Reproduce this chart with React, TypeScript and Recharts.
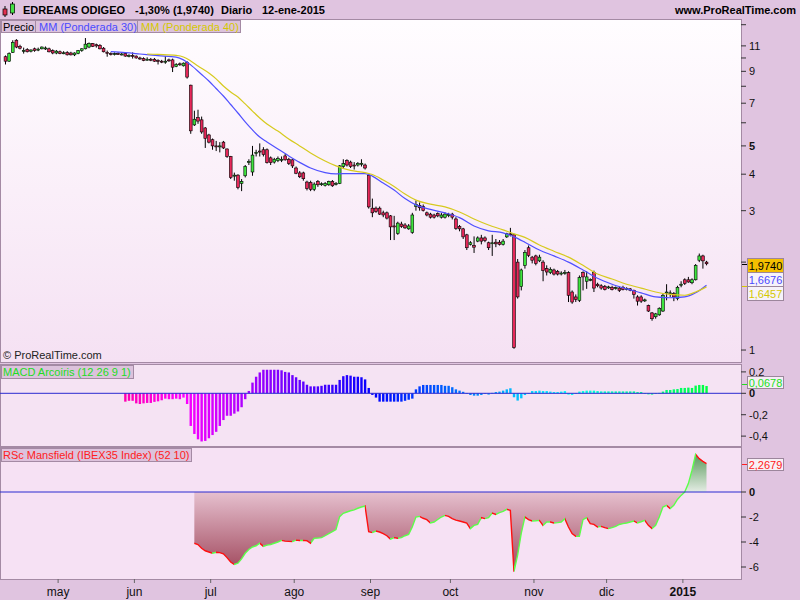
import React from "react";
import { ComposedChart, Bar, Line, Area, XAxis, YAxis, ReferenceLine } from "recharts";

// daily candles [open, high, low, close], one array per month
const aprCandles = [
  [10.1, 10.2, 9.5, 9.75], [9.75, 10.45, 9.7, 10.35], [10.45, 11.5, 10.4, 11.3], [11.5, 11.6, 10.8, 10.9],
  [10.95, 11.1, 10.7, 10.8], [10.6, 10.85, 10.35, 10.62], [10.7, 10.8, 10.45, 10.5], [10.55, 10.7, 10.45, 10.65],
  [10.75, 10.85, 10.5, 10.6], [10.7, 10.85, 10.55, 10.72], [10.75, 10.95, 10.7, 10.9], [10.8, 10.95, 10.65, 10.82],
  [10.75, 10.85, 10.45, 10.5], [10.6, 10.7, 10.3, 10.4], [10.4, 10.65, 10.3, 10.55],
];
const mayCandles = [
  [10.5, 10.6, 10.3, 10.35], [10.4, 10.55, 10.3, 10.42], [10.45, 10.55, 10.2, 10.25], [10.4, 10.5, 10.2, 10.25],
  [10.25, 10.45, 10.15, 10.4], [10.35, 10.65, 10.3, 10.6], [10.6, 10.8, 10.5, 10.75], [10.75, 11.7, 10.7, 11.15],
  [10.9, 11.3, 10.8, 11.2], [11.2, 11.25, 10.9, 10.95], [11.1, 11.2, 10.85, 11.0], [11.05, 11.15, 10.7, 10.75],
  [10.8, 10.9, 10.45, 10.5], [10.45, 10.6, 10.1, 10.42], [10.35, 10.45, 10.2, 10.3], [10.3, 10.45, 10.2, 10.35],
  [10.35, 10.45, 10.25, 10.3], [10.3, 10.4, 10.2, 10.32], [10.35, 10.45, 10.1, 10.15], [10.15, 10.3, 10.05, 10.2],
  [10.2, 10.45, 9.95, 10.15],
];
const junCandles = [
  [10.15, 10.2, 9.95, 10.0], [10.0, 10.1, 9.85, 9.95], [9.95, 10.05, 9.75, 9.8], [9.85, 10.05, 9.8, 9.9],
  [9.9, 10.0, 9.75, 9.85], [9.9, 10.0, 9.7, 9.75], [9.8, 9.9, 9.5, 9.78], [9.75, 9.85, 9.6, 9.7],
  [9.7, 10.15, 9.55, 9.75], [9.85, 9.95, 9.7, 9.8], [9.85, 9.95, 8.95, 9.3], [9.35, 9.6, 9.3, 9.5],
  [9.55, 9.65, 9.4, 9.5], [9.4, 9.65, 9.35, 9.6], [9.65, 9.75, 8.5, 8.6], [8.07, 8.1, 5.5, 5.63],
  [5.9, 6.6, 5.85, 6.17], [6.25, 6.65, 5.95, 6.08], [6.14, 6.3, 5.5, 5.58], [5.76, 5.8, 4.92, 5.3],
  [5.45, 5.5, 5.1, 5.15],
];
const julCandles = [
  [5.25, 5.3, 4.85, 5.0], [5.0, 5.2, 4.8, 4.98], [4.98, 5.15, 4.75, 5.0], [5.15, 5.2, 4.88, 4.92],
  [4.88, 4.9, 4.55, 4.6], [4.6, 4.62, 3.85, 3.9], [3.95, 4.05, 3.8, 3.97], [3.97, 4.0, 3.55, 3.6],
  [3.72, 3.85, 3.5, 3.78], [3.95, 4.3, 3.9, 4.25], [4.4, 4.5, 4.3, 4.42], [4.07, 5.0, 3.95, 4.65],
  [4.72, 4.85, 4.6, 4.75], [4.8, 5.1, 4.6, 4.78], [4.85, 4.95, 4.6, 4.67], [4.85, 4.9, 4.35, 4.38],
  [4.55, 4.6, 4.3, 4.38], [4.4, 4.55, 4.35, 4.5], [4.45, 4.6, 4.4, 4.52], [4.5, 4.6, 4.4, 4.5],
  [4.62, 4.7, 4.45, 4.48], [4.5, 4.55, 4.3, 4.35], [4.48, 4.5, 4.2, 4.27],
];
const augCandles = [
  [4.2, 4.25, 4.0, 4.03], [4.04, 4.1, 3.88, 3.92], [4.04, 4.08, 3.8, 3.86], [3.76, 3.8, 3.52, 3.57],
  [3.75, 3.8, 3.5, 3.55], [3.55, 3.75, 3.5, 3.7], [3.78, 3.82, 3.62, 3.68], [3.7, 3.75, 3.65, 3.71],
  [3.66, 3.76, 3.63, 3.72], [3.68, 3.8, 3.65, 3.78], [3.78, 3.82, 3.62, 3.65], [3.7, 3.76, 3.66, 3.72],
  [3.72, 4.3, 3.7, 4.27], [4.25, 4.5, 4.2, 4.35], [4.45, 4.5, 4.25, 4.3], [4.4, 4.45, 4.2, 4.25],
  [4.3, 4.4, 4.15, 4.28], [4.3, 4.4, 4.25, 4.35], [4.35, 4.5, 4.25, 4.36], [4.3, 4.35, 4.15, 4.2],
  [3.97, 4.0, 3.05, 3.09],
];
const sepCandles = [
  [3.06, 3.3, 2.85, 2.95], [3.06, 3.1, 2.95, 2.98], [3.06, 3.1, 2.9, 2.92], [2.95, 3.0, 2.85, 2.9],
  [2.95, 2.98, 2.8, 2.83], [2.88, 2.9, 2.38, 2.64], [2.66, 2.88, 2.38, 2.64], [2.51, 2.75, 2.48, 2.72],
  [2.7, 2.75, 2.62, 2.65], [2.68, 2.72, 2.6, 2.62], [2.6, 2.7, 2.58, 2.66], [2.53, 2.95, 2.5, 2.9],
  [3.1, 3.25, 3.0, 3.15], [3.13, 3.2, 3.0, 3.07], [3.1, 3.15, 2.98, 3.0], [2.95, 2.98, 2.87, 2.9],
  [2.92, 2.95, 2.82, 2.85], [2.9, 2.93, 2.82, 2.85], [2.93, 2.96, 2.85, 2.88], [2.85, 2.95, 2.82, 2.9],
  [2.85, 2.96, 2.82, 2.92], [2.9, 2.95, 2.85, 2.91],
];
const octCandles = [
  [2.92, 2.95, 2.8, 2.85], [2.81, 2.85, 2.58, 2.61], [2.65, 2.68, 2.55, 2.6], [2.6, 2.62, 2.4, 2.44],
  [2.48, 2.5, 2.2, 2.24], [2.3, 2.36, 2.28, 2.33], [2.28, 2.45, 2.15, 2.25], [2.36, 2.45, 2.34, 2.42],
  [2.42, 2.48, 2.3, 2.36], [2.42, 2.45, 2.34, 2.37], [2.33, 2.35, 2.2, 2.24], [2.32, 2.48, 2.1, 2.33],
  [2.34, 2.4, 2.25, 2.31], [2.34, 2.38, 2.28, 2.3], [2.3, 2.4, 2.28, 2.36], [2.44, 2.52, 2.42, 2.5],
  [2.5, 2.62, 2.45, 2.48], [2.48, 2.5, 1.01, 1.02], [2.0, 2.05, 1.5, 1.52], [1.65, 1.9, 1.6, 1.88],
  [1.95, 2.2, 1.9, 2.16], [2.24, 2.28, 2.08, 2.11], [2.08, 2.1, 1.98, 2.03],
];
const novCandles = [
  [2.1, 2.12, 1.95, 1.98], [2.02, 2.12, 2.0, 2.08], [2.0, 2.03, 1.72, 1.87], [1.9, 1.95, 1.8, 1.85],
  [1.84, 1.92, 1.82, 1.89], [1.88, 1.9, 1.8, 1.82], [1.86, 1.88, 1.8, 1.82], [1.83, 1.86, 1.8, 1.835],
  [1.84, 1.88, 1.81, 1.845], [1.84, 1.86, 1.46, 1.54], [1.58, 1.6, 1.44, 1.46], [1.52, 1.55, 1.46, 1.49],
  [1.48, 1.8, 1.46, 1.77], [1.84, 1.86, 1.6, 1.78], [1.72, 1.86, 1.62, 1.78], [1.74, 1.76, 1.72, 1.745],
  [1.84, 1.87, 1.58, 1.63], [1.68, 1.7, 1.64, 1.66], [1.66, 1.68, 1.61, 1.63], [1.65, 1.67, 1.6, 1.61],
];
const decCandles = [
  [1.64, 1.66, 1.62, 1.645], [1.64, 1.66, 1.6, 1.61], [1.63, 1.65, 1.61, 1.635], [1.63, 1.65, 1.58, 1.6],
  [1.64, 1.66, 1.6, 1.61], [1.62, 1.64, 1.6, 1.625], [1.62, 1.63, 1.59, 1.6], [1.6, 1.61, 1.5, 1.55],
  [1.52, 1.54, 1.42, 1.47], [1.52, 1.54, 1.45, 1.47], [1.48, 1.5, 1.46, 1.485], [1.42, 1.43, 1.35, 1.36],
  [1.34, 1.35, 1.26, 1.28], [1.3, 1.34, 1.28, 1.33], [1.32, 1.4, 1.31, 1.39], [1.36, 1.56, 1.35, 1.54],
  [1.57, 1.68, 1.48, 1.58], [1.56, 1.6, 1.52, 1.57], [1.56, 1.58, 1.47, 1.52], [1.5, 1.66, 1.48, 1.64],
  [1.67, 1.72, 1.64, 1.68],
];
const janCandles = [
  [1.74, 1.76, 1.67, 1.69], [1.74, 1.78, 1.7, 1.71], [1.7, 1.76, 1.68, 1.74], [1.74, 1.97, 1.73, 1.95],
  [2.03, 2.14, 2.0, 2.1], [2.1, 2.12, 1.9, 2.02], [2.0, 2.02, 1.95, 1.974],
];
const monthLabels = ["abr", "may", "jun", "jul", "ago", "sep", "oct", "nov", "dic", "2015"];

// weighted moving averages: [trading day, value]
const ma30Points = [
  [29, 10.51], [33, 10.43], [37, 10.32], [42, 10.18], [47, 10.06], [49, 9.85], [51, 9.47], [54, 8.78],
  [56, 8.34], [58, 7.86], [60, 7.41], [62, 6.93], [64, 6.48], [66, 6.04], [68, 5.67], [70, 5.36],
  [72, 5.16], [75, 4.88], [78, 4.62], [81, 4.39], [84, 4.2], [88, 4.05], [91, 4.01], [95, 4.02],
  [99, 4.02], [101, 3.94], [104, 3.73], [107, 3.53], [110, 3.3], [113, 3.14], [117, 3.03], [121, 2.95],
  [125, 2.84], [129, 2.66], [133, 2.56], [137, 2.52], [140, 2.44], [143, 2.34], [147, 2.2], [151, 2.1],
  [155, 2.0], [159, 1.88], [163, 1.76], [167, 1.68], [171, 1.62], [175, 1.57], [179, 1.52], [183, 1.51],
  [187, 1.52], [190, 1.57], [193, 1.6676],
];
const ma40Points = [
  [39, 10.32], [42, 10.28], [47, 10.2], [49, 10.08], [51, 9.77], [53, 9.39], [56, 8.88], [58, 8.48],
  [60, 8.02], [62, 7.65], [64, 7.35], [66, 6.96], [68, 6.58], [70, 6.23], [72, 5.94], [75, 5.62],
  [78, 5.28], [81, 5.0], [84, 4.73], [88, 4.44], [91, 4.27], [95, 4.12], [99, 4.05], [101, 3.99],
  [104, 3.82], [107, 3.63], [110, 3.42], [113, 3.26], [117, 3.16], [121, 3.09], [125, 2.97], [129, 2.81],
  [133, 2.68], [137, 2.58], [140, 2.5], [143, 2.43], [147, 2.29], [151, 2.18], [155, 2.08], [159, 1.95],
  [163, 1.82], [167, 1.75], [171, 1.68], [175, 1.63], [179, 1.58], [183, 1.55], [187, 1.54], [190, 1.58],
  [193, 1.6457],
];

// MACD Arcoiris histogram, starting at trading day 33
const macdFirstDay = 33;
const macdHist = [
  -0.078, -0.07, -0.07, -0.094, -0.1, -0.094, -0.09, -0.09, -0.08, -0.075, -0.065, -0.05, -0.055, -0.055, -0.05, -0.055, -0.04,
  -0.1, -0.305, -0.38, -0.43, -0.45, -0.445, -0.42, -0.39, -0.36, -0.305, -0.25, -0.21, -0.21, -0.19, -0.17, -0.13, -0.055,
  0.022, 0.1, 0.155, 0.195, 0.22, 0.22, 0.22, 0.22, 0.22, 0.215, 0.2, 0.195, 0.17, 0.15, 0.125, 0.11, 0.08,
  0.065, 0.065, 0.065, 0.07, 0.08, 0.08, 0.08, 0.08, 0.125, 0.16, 0.17, 0.165, 0.155, 0.155, 0.15, 0.13, 0.05,
  -0.015, -0.04, -0.078, -0.078, -0.078, -0.078, -0.078, -0.078,
  -0.078, -0.07, -0.06, -0.05,
  0.037, 0.065, 0.078, 0.078, 0.078, 0.078, 0.078, 0.078, 0.07, 0.07, 0.057, 0.037, 0.025, 0.014, 0.003,
  -0.016, -0.022, -0.022, -0.016, -0.003, -0.012,
  0.004, 0.012, 0.016, 0.025, 0.037, 0.047,
  -0.037, -0.068, -0.047, -0.016, 0.002,
  0.021, 0.021, 0.025, 0.021, 0.021, 0.016, 0.012, 0.012, 0.016, 0.021,
  -0.012, -0.016, 0.002,
  0.016, 0.021, 0.025, 0.025, 0.025, 0.021, 0.018, 0.018, 0.018, 0.018, 0.018, 0.018, 0.018, 0.018, 0.018, 0.018, 0.012, 0.012, 0.002,
  -0.01, -0.012, 0.002,
  0.004, 0.016, 0.031, 0.031, 0.037, 0.04, 0.05, 0.05, 0.053, 0.05, 0.072, 0.078, 0.078, 0.068,
];

// RSc Mansfield vs IBEX35, starting at trading day 52
const rscFirstDay = 52;
const rscValues = [
  -4.1, -4.2, -4.5, -4.7, -4.8, -4.9, -4.82, -4.85, -4.95, -5.25,
  -5.6, -5.8, -5.7, -5.35, -4.9, -4.6, -4.4, -4.3, -4.1, -4.35,
  -4.25, -4.2, -4.1, -4.0, -3.87, -3.93, -3.95, -3.97, -3.85, -3.88,
  -3.87, -3.9, -4.1, -3.7, -3.68, -3.65, -3.5, -3.33, -3.17, -3.0,
  -1.97, -1.7, -1.6, -1.5, -1.43, -1.3, -1.2, -1.12, -3.17, -3.25,
  -3.12, -3.2, -3.33, -3.5, -3.77, -3.65, -3.7, -3.65, -3.5, -3.39,
  -2.8, -2.0, -1.95, -2.1, -2.21, -2.48, -2.4, -2.2, -2.0, -1.87,
  -1.95, -2.13, -2.25, -2.32, -2.4, -2.48, -2.93, -2.67, -2.59, -2.05,
  -2.13, -2.05, -1.68, -1.79, -1.65, -1.55, -1.39, -1.47, -6.37, -5.04,
  -3.31, -2.0, -2.21, -2.32, -2.3, -2.27, -2.67, -2.4, -2.4, -2.48,
  -2.45, -2.4, -2.13, -2.8, -3.33, -3.55, -3.55, -2.21, -2.05, -2.53,
  -2.59, -2.8, -2.75, -2.85, -2.93, -2.85, -2.75, -2.6, -2.53, -2.48,
  -2.4, -2.32, -2.48, -2.38, -2.27, -2.67, -2.93, -2.67, -2.0, -1.2,
  -1.07, -1.33, -1.07, -0.6, -0.27, 0.0, 0.67, 1.73, 3.01, 2.67,
  2.45, 2.27,
];

const priceTicks = [1, 2, 3, 4, 5, 6, 7, 8, 9, 10, 11, 13];
const priceTickLabels = [1, 3, 4, 5, 7, 9, 11];
const macdTicks = [-0.4, -0.2, 0, 0.2];
const rscTicks = [-6, -4, -2, 0];

const FONT = "'Liberation Sans', Arial, sans-serif";
const W = 800;
const AXIS_W = 59;
const PAD_BEFORE = 1;
const PAD_AFTER = 9;
const FRAME = "#e0c4e0";
const BORDER = "#a48aa4";

const monthBlocks = [aprCandles, mayCandles, junCandles, julCandles, augCandles, sepCandles, octCandles, novCandles, decCandles, janCandles];
const candles = monthBlocks.flat();
const TOTAL = PAD_BEFORE + candles.length + PAD_AFTER;
const SLOT = (W - AXIS_W) / TOTAL;

const monthStartLabel: Record<number, string> = {};
let acc = 0;
monthBlocks.forEach((m, j) => {
  if (j > 0) monthStartLabel[acc + PAD_BEFORE] = monthLabels[j];
  acc += m.length;
});

const rows: any[] = [];
for (let k = 0; k < TOTAL; k++) {
  const d = k - PAD_BEFORE;
  const row: any = { k };
  if (d >= 0 && d < candles.length) {
    const [o, h, l, c] = candles[d];
    row.o = o; row.h = h; row.l = l; row.c = c;
    row.range = [l, h];
  }
  const mi = d - macdFirstDay;
  if (mi >= 0 && mi < macdHist.length) {
    row.macd = macdHist[mi];
    row.hue = 318 - (mi / (macdHist.length - 1)) * 183;
  }
  const ri = d - rscFirstDay;
  if (ri >= 0 && ri < rscValues.length) row.rsc = rscValues[ri];
  rows.push(row);
}
ma30Points.forEach(([d, v]) => { rows[d + PAD_BEFORE].ma30 = v; });
ma40Points.forEach(([d, v]) => { rows[d + PAD_BEFORE].ma40 = v; });

const Candle = (props: any) => {
  const { x, y, width, height, payload } = props;
  if (!payload || payload.o == null) return <g />;
  const top = Math.min(y, y + height);
  const bot = Math.max(y, y + height);
  const lh = Math.log(payload.h);
  const ll = Math.log(payload.l);
  const toY = (v: number) => (lh === ll ? top : top + ((lh - Math.log(v)) / (lh - ll)) * (bot - top));
  const cx = x + width / 2;
  const yo = toY(payload.o);
  const yc = toY(payload.c);
  const up = payload.c >= payload.o;
  return (
    <g>
      <line x1={cx} x2={cx} y1={top} y2={bot} stroke="#000" strokeWidth={1} />
      <rect x={cx - 1.4} y={Math.min(yo, yc)} width={2.8} height={Math.max(Math.abs(yo - yc), 1)}
        fill={up ? "#3ee43e" : "#e6285a"} stroke="#000" strokeWidth={0.6} />
    </g>
  );
};

const MacdBar = (props: any) => {
  const { x, y, width, height, payload } = props;
  if (!payload || payload.macd == null) return <g />;
  const top = Math.min(y, y + height);
  return <rect x={x + width / 2 - 1.2} y={top} width={2.4} height={Math.max(Math.abs(height), 0.6)} fill={`hsl(${payload.hue},100%,50%)`} />;
};

const fmt = (v: number) => String(v).replace(".", ",");

const PriceTick = ({ x, y, payload }: any) => {
  const v = payload.value;
  if (!priceTickLabels.includes(v)) return <g />;
  return (
    <text x={x} y={y} dy={4} textAnchor="start" fontSize={11} fontFamily={FONT} fill="#111" fontWeight={v === 5 ? "bold" : "normal"}>
      {String(v)}
    </text>
  );
};

const ValueTick = ({ x, y, payload }: any) => {
  const v = payload.value;
  return (
    <text x={x} y={y} dy={4} textAnchor="start" fontSize={11} fontFamily={FONT} fill="#111" fontWeight={v === 0 ? "bold" : "normal"}>
      {fmt(v)}
    </text>
  );
};

const MonthTick = ({ x, y, payload }: any) => {
  const label = monthStartLabel[payload.value];
  if (!label) return <g />;
  const tx = x - SLOT / 2;
  return (
    <g>
      <line x1={tx} x2={tx} y1={y} y2={y + 4} stroke="#666" />
      <text x={tx} y={y + 17} textAnchor="middle" fontSize={12} fontFamily={FONT} fill="#111" fontWeight={label === "2015" ? "bold" : "normal"}>
        {label}
      </text>
    </g>
  );
};

const rscMax = Math.max(0, ...rscValues);
const rscMin = Math.min(0, ...rscValues);
const zeroOff = rscMax / (rscMax - rscMin);
const rscStops: any[] = [];
for (let k = 0; k < rscValues.length - 1; k++) {
  const col = rscValues[k + 1] >= rscValues[k] ? "#5cff4a" : "#ff1010";
  const n = rscValues.length - 1;
  rscStops.push(<stop key={`a${k}`} offset={k / n} stopColor={col} />);
  rscStops.push(<stop key={`b${k}`} offset={(k + 1) / n} stopColor={col} />);
}

const margin = { top: 0, right: 0, bottom: 0, left: 0 };
const abs = (left: number, top: number): React.CSSProperties => ({ position: "absolute", left, top });

const Overlay = () => (
  <svg width={W} height={600} style={{ position: "absolute", left: 0, top: 0, pointerEvents: "none" }} fontFamily={FONT}>
    <line x1={5} x2={5} y1={6} y2={17} stroke="#000" />
    <rect x={3} y={9} width={4} height={6} fill="#e03050" stroke="#000" strokeWidth={0.7} />
    <line x1={12.5} x2={12.5} y1={2} y2={15} stroke="#000" />
    <rect x={10.5} y={4} width={4} height={9} fill="#44e044" stroke="#000" strokeWidth={0.7} />
    <g fontSize={11} fontWeight="bold" fill="#000">
      <text x={23} y={14}>EDREAMS ODIGEO</text>
      <text x={135} y={14}>-1,30% (1,9740)</text>
      <text x={221} y={14}>Diario</text>
      <text x={262} y={14}>12-ene-2015</text>
      <text x={796} y={14} textAnchor="end">www.ProRealTime.com</text>
    </g>

    <g fontSize={11}>
      <rect x={1.5} y={20.5} width={34} height={12} fill="#dcc2dc" stroke={BORDER} />
      <text x={3} y={30.5} fill="#000">Precio</text>
      <rect x={35.5} y={20.5} width={102} height={12} fill="#dcc2dc" stroke={BORDER} />
      <text x={39} y={30.5} fill="#4a4aff">MM (Ponderada 30)</text>
      <rect x={137.5} y={20.5} width={103} height={12} fill="#dcc2dc" stroke={BORDER} />
      <text x={141} y={30.5} fill="#d4c800">MM (Ponderada 40)</text>
      <text x={3} y={359} fill="#222">© ProRealTime.com</text>

      <rect x={1.5} y={365.5} width={132} height={13} fill="#dcc2dc" stroke={BORDER} />
      <text x={3} y={376} fill="#22dd22">MACD Arcoiris (12 26 9 1)</text>
      <rect x={1.5} y={448.5} width={190} height={13} fill="#dcc2dc" stroke={BORDER} />
      <text x={3} y={459} fill="#ff2020">RSc Mansfield (IBEX35 Index) (52 10)</text>

      <line x1={742} x2={747} y1={264.5} y2={264.5} stroke="#000" />
      <line x1={742} x2={747} y1={286.5} y2={286.5} stroke="#d4c800" />
      <rect x={747.5} y={258.5} width={36} height={42} fill="#f6f2fa" stroke="#9c869c" />
      <rect x={748} y={259} width={35} height={13.5} fill="#f4c000" />
      <line x1={748} x2={783} y1={272.5} y2={272.5} stroke="#9c869c" />
      <line x1={748} x2={783} y1={286.5} y2={286.5} stroke="#9c869c" />
      <text x={765.5} y={269.5} textAnchor="middle" fill="#000">1,9740</text>
      <text x={765.5} y={283.5} textAnchor="middle" fill="#4a4aff">1,6676</text>
      <text x={765.5} y={297.5} textAnchor="middle" fill="#d4c800">1,6457</text>

      <line x1={742} x2={747} y1={384.5} y2={384.5} stroke="#22dd22" />
      <rect x={747.5} y={376.5} width={36} height={12} fill="#f6eef6" stroke="#9c869c" />
      <text x={765.5} y={386.5} textAnchor="middle" fill="#22e022">0,0678</text>

      <line x1={742} x2={747} y1={464.5} y2={464.5} stroke="#ff2020" />
      <rect x={747.5} y={458.5} width={36} height={12} fill="#f8f0f6" stroke="#9c869c" />
      <text x={765.5} y={468.5} textAnchor="middle" fill="#ff2020">2,2679</text>
    </g>
  </svg>
);

export default function App() {
  return (
    <div style={{ position: "absolute", left: 0, top: 0, width: W, height: 600, background: FRAME, overflow: "hidden", fontFamily: FONT }}>
      <div style={{ ...abs(0, 19), width: 742, height: 344, boxSizing: "border-box", border: `1px solid ${BORDER}`, background: "linear-gradient(#fffdff, #f5e1f3)" }} />
      <div style={{ ...abs(0, 364), width: 742, height: 83, boxSizing: "border-box", border: `1px solid ${BORDER}`, background: "#f5e3f3" }} />
      <div style={{ ...abs(0, 447), width: 742, height: 133, boxSizing: "border-box", border: `1px solid ${BORDER}`, background: "#f6e1f4" }} />

      <div style={abs(0, 20)}>
        <ComposedChart width={W} height={342} data={rows} margin={margin}>
          <XAxis dataKey="k" type="category" hide />
          <YAxis orientation="right" width={AXIS_W} scale="log" type="number" domain={[0.91, 13.49]} allowDataOverflow
            ticks={priceTicks} interval={0} axisLine={false} tickSize={5} tickMargin={3}
            tickLine={{ stroke: "#333" }} tick={PriceTick} />
          <Bar dataKey="range" shape={Candle} isAnimationActive={false} />
          <Line dataKey="ma30" type="monotone" stroke="#5050ff" strokeWidth={1.2} dot={false} connectNulls isAnimationActive={false} />
          <Line dataKey="ma40" type="monotone" stroke="#d6ca1e" strokeWidth={1.2} dot={false} connectNulls isAnimationActive={false} />
        </ComposedChart>
      </div>

      <div style={abs(0, 365)}>
        <ComposedChart width={W} height={80} data={rows} margin={margin}>
          <XAxis dataKey="k" type="category" hide />
          <YAxis orientation="right" width={AXIS_W} type="number" domain={[-0.483, 0.2645]} allowDataOverflow
            ticks={macdTicks} interval={0} axisLine={false} tickSize={5} tickMargin={3}
            tickLine={{ stroke: "#333" }} tick={ValueTick} />
          <ReferenceLine y={0} stroke="#2a2ad0" strokeWidth={1} />
          <Bar dataKey="macd" shape={MacdBar} isAnimationActive={false} />
        </ComposedChart>
      </div>

      <div style={abs(0, 448)}>
        <ComposedChart width={W} height={151} data={rows} margin={margin}>
          <defs>
            <linearGradient id="rscFill" x1="0" y1="0" x2="0" y2="1">
              <stop offset={0} stopColor="#5a9a5c" />
              <stop offset={zeroOff} stopColor="#e4ece4" />
              <stop offset={zeroOff} stopColor="#e6c0cf" />
              <stop offset={1} stopColor="#a0485c" />
            </linearGradient>
            <linearGradient id="rscLine" x1="0" y1="0" x2="1" y2="0">
              {rscStops}
            </linearGradient>
          </defs>
          <XAxis dataKey="k" type="category" height={20} interval={0} tickLine={false} axisLine={false}
            tickSize={0} tickMargin={0} tick={MonthTick} />
          <YAxis orientation="right" width={AXIS_W} type="number" domain={[-6.96, 3.52]} allowDataOverflow
            ticks={rscTicks} interval={0} axisLine={false} tickSize={5} tickMargin={3}
            tickLine={{ stroke: "#333" }} tick={ValueTick} />
          <Bar dataKey="rsc" fill="none" isAnimationActive={false} />
          <Area dataKey="rsc" type="linear" baseValue={0} fill="url(#rscFill)" fillOpacity={1}
            stroke="url(#rscLine)" strokeWidth={1.4} dot={false} isAnimationActive={false} />
          <ReferenceLine y={0} stroke="#2a2ad0" strokeWidth={1} />
        </ComposedChart>
      </div>

      <Overlay />
    </div>
  );
}
